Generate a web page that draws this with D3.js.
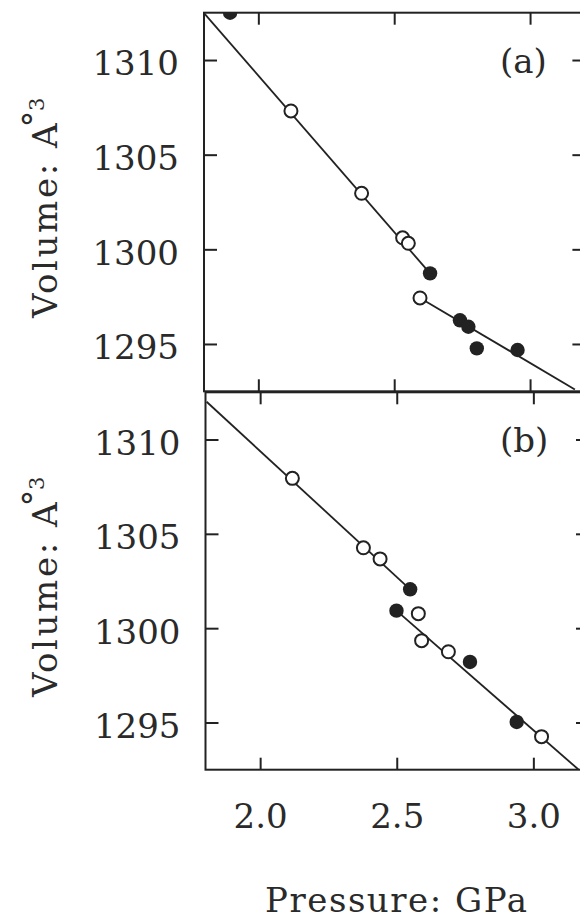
<!DOCTYPE html>
<html>
<head>
<meta charset="utf-8">
<script src="https://cdn.jsdelivr.net/npm/d3@7"></script>
<style>
  body { margin: 0; background: #fff; }
  svg { display: block; }
</style>
</head>
<body>
<div id="chart"></div>
<script>
// values: pressure (GPa) vs unit-cell volume (Å^3)
const xTicks = [2.0, 2.5, 3.0];
const yTicks = [1295, 1300, 1305, 1310];

// panel (a)
const aOpenP = [2.120, 2.380, 2.531, 2.552, 2.595];
const aOpenV = [1307.31, 1302.96, 1300.61, 1300.32, 1297.43];
const aFilledP = [1.896, 2.632, 2.742, 2.773, 2.804, 2.954];
const aFilledV = [1312.5, 1298.73, 1296.25, 1295.91, 1294.77, 1294.68];
const aFit1 = [[1.800, 1312.48], [2.632, 1298.73]];
const aFit2 = [[2.595, 1297.43], [3.165, 1292.6]];

// panel (b)
const bOpenP = [2.118, 2.378, 2.439, 2.579, 2.591, 2.689, 3.030];
const bOpenV = [1307.94, 1304.26, 1303.67, 1300.77, 1299.34, 1298.75, 1294.25];
const bFilledP = [2.549, 2.499, 2.768, 2.939];
const bFilledV = [1302.06, 1300.93, 1298.21, 1295.03];
const bFit1 = [[1.804, 1312.0], [2.549, 1302.06]];
const bFit2 = [[2.499, 1300.93], [3.165, 1292.51]];

const W = 580, H = 919;
const ink = '#222';
const font = '"DejaVu Serif", serif';

const svg = d3.select('#chart')
  .append('svg')
  .attr('width', W)
  .attr('height', H);

const panels = [
  {id: 'a', label: '(a)', top: 12.7, bottom: 391.3, left: 204, right: 584.4,
   openP: aOpenP, openV: aOpenV, filledP: aFilledP, filledV: aFilledV,
   fits: [aFit1, aFit2], ylabelStart: 318},
  {id: 'b', label: '(b)', top: 392.3, bottom: 769.7, left: 205.5, right: 588,
   openP: bOpenP, openV: bOpenV, filledP: bFilledP, filledV: bFilledV,
   fits: [bFit1, bFit2], ylabelStart: 697},
];

panels.forEach((p, idx) => {
  const x = d3.scaleLinear().domain([1.8, 3.2]).range([p.left, p.right]);
  const y = d3.scaleLinear().domain([1292.5, 1312.5]).range([p.bottom, p.top]);

  const g = svg.append('g').attr('class', 'panel-' + p.id);

  // clip region for marks
  g.append('clipPath')
    .attr('id', 'clip-' + p.id)
    .append('rect')
    .attr('x', p.left)
    .attr('y', p.top)
    .attr('width', p.right - p.left)
    .attr('height', p.bottom - p.top);

  // left axis with labels, inward ticks
  const left = g.append('g')
    .attr('transform', `translate(${p.left},0)`)
    .call(d3.axisLeft(y).tickValues(yTicks).tickSize(-13).tickSizeOuter(0)
      .tickPadding(25).tickFormat(d3.format('d')));
  // right axis, inward ticks
  const right = g.append('g')
    .attr('transform', `translate(${p.right},0)`)
    .call(d3.axisRight(y).tickValues(yTicks).tickSize(-12).tickSizeOuter(0).tickFormat(''));
  // top axis, inward ticks
  const top = g.append('g')
    .attr('transform', `translate(0,${p.top})`)
    .call(d3.axisTop(x).tickValues(xTicks).tickSize(-12).tickSizeOuter(0).tickFormat(''));
  // bottom axis, inward ticks, labels only on the lower panel
  const bottom = g.append('g')
    .attr('transform', `translate(0,${p.bottom})`)
    .call(d3.axisBottom(x).tickValues(xTicks).tickSize(-12).tickSizeOuter(0)
      .tickPadding(34)
      .tickFormat(idx === 1 ? d3.format('.1f') : ''));

  [left, right, top, bottom].forEach((ax) => {
    ax.select('.domain').remove();
    ax.selectAll('.tick line').attr('stroke', ink).attr('stroke-width', 2);
    ax.selectAll('.tick text')
      .attr('fill', '#2a2a2a')
      .style('font-family', font)
      .style('font-size', '34px');
  });
  left.selectAll('.tick text').attr('dy', '0.44em');
  bottom.selectAll('.tick text').attr('dy', '0.71em');

  // frame
  g.append('rect')
    .attr('x', p.left)
    .attr('y', p.top)
    .attr('width', p.right - p.left)
    .attr('height', p.bottom - p.top)
    .attr('fill', 'none')
    .attr('stroke', ink)
    .attr('stroke-width', 2);

  const plot = g.append('g').attr('clip-path', `url(#clip-${p.id})`);

  // fitted lines
  const line = d3.line().x((d) => x(d[0])).y((d) => y(d[1]));
  plot.selectAll('.fit')
    .data(p.fits)
    .join('path')
    .attr('class', 'fit')
    .attr('d', line)
    .attr('fill', 'none')
    .attr('stroke', ink)
    .attr('stroke-width', 1.8);

  // open symbols
  plot.selectAll('.open')
    .data(p.openP.map((v, i) => [v, p.openV[i]]))
    .join('circle')
    .attr('class', 'open')
    .attr('cx', (d) => x(d[0]))
    .attr('cy', (d) => y(d[1]))
    .attr('r', 6.5)
    .attr('fill', '#fff')
    .attr('stroke', ink)
    .attr('stroke-width', 2);

  // filled symbols
  plot.selectAll('.filled')
    .data(p.filledP.map((v, i) => [v, p.filledV[i]]))
    .join('circle')
    .attr('class', 'filled')
    .attr('cx', (d) => x(d[0]))
    .attr('cy', (d) => y(d[1]))
    .attr('r', 7.2)
    .attr('fill', ink);

  // panel tag
  g.append('text')
    .attr('x', 500)
    .attr('y', p.top + 60)
    .attr('fill', '#2a2a2a')
    .style('font-family', font)
    .style('font-size', '34px')
    .text(p.label);

  // y-axis title
  const yl = g.append('text')
    .attr('transform', `translate(57,${p.ylabelStart}) rotate(-90)`)
    .attr('fill', '#2a2a2a')
    .style('font-family', font)
    .style('font-size', '34px')
    .style('letter-spacing', '2.6px');
  yl.append('tspan').text('Volume: A');
  yl.append('tspan').attr('dx', '-0.2em').attr('dy', '-0.3em').text('\u00b0');
  yl.append('tspan').attr('dx', '-0.14em').attr('dy', '-0.12em')
    .style('font-size', '21px').text('3');
});

// x-axis title
svg.append('text')
  .attr('x', 396)
  .attr('y', 912)
  .attr('text-anchor', 'middle')
  .attr('fill', '#2a2a2a')
  .attr('textLength', 262)
  .attr('lengthAdjust', 'spacing')
  .style('font-family', font)
  .style('font-size', '34px')
  .text('Pressure: GPa');
</script>
</body>
</html>
